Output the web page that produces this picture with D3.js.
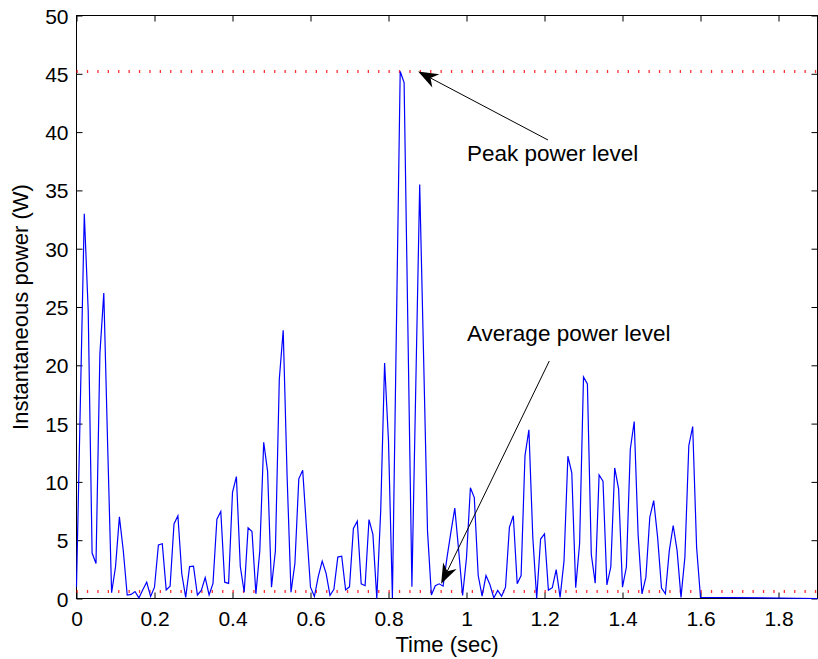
<!DOCTYPE html>
<html>
<head>
<meta charset="utf-8">
<script src="https://cdn.jsdelivr.net/npm/d3@7"></script>
<style>
  html, body { margin: 0; padding: 0; background: #fff; }
  svg { display: block; }
  text { font-family: "Liberation Sans", Arial, Helvetica, sans-serif; fill: #000; }
</style>
</head>
<body>
<svg id="chart" width="818" height="659"></svg>
<script>

// sample period of the power trace (sec)
const samplePeriod = 0.01;

// instantaneous power (W), one value per sample starting at t = 0
const powerValues = [
  1.0, 17, 33.0, 24.7, 3.9, 3.0, 21.0, 26.2, 13.0, 0.5,
  2.7, 7.0, 4.1, 0.3, 0.35, 0.6, 0.05, 0.75, 1.4, 0.17,
  0.97, 4.6, 4.7, 0.74, 1.06, 6.4, 7.1, 2.1, 0.1, 2.74,
  2.77, 0.3, 0.69, 1.8, 0.3, 1.3, 6.8, 7.46, 1.4, 1.3,
  9.1, 10.46, 2.74, 0.54, 6.06, 5.75, 0.4, 4.1, 13.4, 10.9,
  0.97, 4.1, 18.8, 23.0, 10.5, 0.54, 3.0, 10.26, 11.0, 5.9,
  0.97, 0.17, 1.9, 3.2, 2.15, 0.26, 0.78, 3.55, 3.63, 0.74,
  1.0, 6.0, 6.63, 1.26, 1.1, 6.77, 5.5, 0, 7.5, 20.2,
  13.5, 0.05, 22.6, 45.2, 44.25, 22.6, 1.0, 18.3, 35.5, 20.7,
  5.8, 0.3, 1.1, 1.26, 1.06, 3.5, 5.7, 7.75, 4.1, 0.26,
  3.5, 9.5, 8.65, 1.97, 0.2, 1.97, 1.2, 0.05, 0.69, 0.2,
  0.97, 6.1, 7.1, 1.26, 1.97, 12.26, 14.47, 5.26, 0, 5.1,
  5.55, 0.72, 0.93, 2.48, 0.1, 3.2, 12.2, 10.78, 0.93, 4.7,
  19.0, 18.4, 3.77, 1.32, 10.6, 10.06, 1.17, 2.7, 11.2, 9.4,
  0.97, 2.7, 12.8, 15.18, 5.5, 0.4, 1.83, 6.97, 8.4, 5.26,
  0.9, 0.4, 4.1, 6.26, 4.1, 0.1, 3.55, 13.1, 14.75, 4.4,
  0.1
];

// trace stays at zero after the last sample up to the end of the axis
const tailPoint = [1.9, 0];

// reference levels (W)
const peakLevel = 45.2;
const averageLevel = 0.6;

// axis ticks
const xTicks = [0, 0.2, 0.4, 0.6, 0.8, 1, 1.2, 1.4, 1.6, 1.8];
const yTicks = [0, 5, 10, 15, 20, 25, 30, 35, 40, 45, 50];

// annotations: text anchor and arrow tail in px, arrow tip in data units
const annotations = [
  { label: 'Peak power level', tx: 467, ty: 161, tail: [548, 140], tip: [0.876, 45.2] },
  { label: 'Average power level', tx: 467, ty: 341, tail: [549.3, 361], tip: [0.935, 1.26] }
];


/**
 * @class
 */
class PowerChart {


  /**
   * @constructor
   * @param {SVGElement} svg
   */
  constructor(svg) {

    this._svg = d3.select(svg);

    this._left = 76.5;
    this._right = 817.5;
    this._top = 15.5;
    this._bottom = 598.5;
    this._tickLen = 6;

    this._xScale = d3.scaleLinear().domain([0, 1.9]).range([this._left, this._right]);
    this._yScale = d3.scaleLinear().domain([0, 50]).range([this._bottom, this._top]);
  }


  /**
   * Render everything.
   * @returns {PowerChart}
   */
  render() {

    this._renderAxes();
    this._renderLevels();
    this._renderTrace();
    this._renderAnnotations();

    return this;
  }


  _renderLevels() {

    const x = this._xScale;
    const y = this._yScale;

    [peakLevel, averageLevel].forEach((level) => {

      this._svg.append('line')
        .attr('x1', x(0))
        .attr('x2', x(1.9))
        .attr('y1', y(level))
        .attr('y2', y(level))
        .style('stroke', '#ff0000')
        .style('stroke-width', 3)
        .style('stroke-dasharray', '1.3,9.1')
        .style('opacity', 0.8);
    });
  }


  _renderTrace() {

    const x = this._xScale;
    const y = this._yScale;

    const points = powerValues.map((v, i) => [i * samplePeriod, v]);
    points.push(tailPoint);

    const line = d3.line()
      .x((d) => x(d[0]))
      .y((d) => y(d[1]));

    this._svg.append('path')
      .datum(points)
      .attr('d', line)
      .style('fill', 'none')
      .style('stroke', '#0000ff')
      .style('stroke-width', 1.2)
      .style('stroke-linejoin', 'miter');
  }


  _renderAxes() {

    const fmt = (d) => d3.format('')(d);

    const bottom = this._svg.append('g')
      .attr('transform', `translate(0,${this._bottom})`)
      .call(d3.axisBottom(this._xScale).tickValues(xTicks).tickFormat(fmt)
        .tickSizeInner(-this._tickLen).tickSizeOuter(0));

    const top = this._svg.append('g')
      .attr('transform', `translate(0,${this._top})`)
      .call(d3.axisTop(this._xScale).tickValues(xTicks).tickFormat('')
        .tickSizeInner(-this._tickLen).tickSizeOuter(0));

    const left = this._svg.append('g')
      .attr('transform', `translate(${this._left},0)`)
      .call(d3.axisLeft(this._yScale).tickValues(yTicks).tickFormat(fmt)
        .tickSizeInner(-this._tickLen).tickSizeOuter(0));

    const right = this._svg.append('g')
      .attr('transform', `translate(${this._right},0)`)
      .call(d3.axisRight(this._yScale).tickValues(yTicks).tickFormat('')
        .tickSizeInner(-this._tickLen).tickSizeOuter(0));

    [bottom, top, left, right].forEach((g) => {

      g.selectAll('.domain').remove();
      g.selectAll('line').style('stroke', '#000').style('stroke-width', 1);
      g.selectAll('text')
        .style('font-size', '21px')
        .style('font-family', '"Liberation Sans", Arial, sans-serif')
        .style('fill', '#000');
    });

    bottom.selectAll('text').attr('dy', null).attr('y', 27.5);
    left.selectAll('text').attr('dy', '0.36em').attr('x', -8);

    // box
    this._svg.append('rect')
      .attr('x', this._left)
      .attr('y', this._top)
      .attr('width', this._right - this._left)
      .attr('height', this._bottom - this._top)
      .style('fill', 'none')
      .style('stroke', '#000')
      .style('stroke-width', 1);

    this._svg.append('text')
      .attr('x', (this._left + this._right) / 2)
      .attr('y', 652)
      .attr('text-anchor', 'middle')
      .style('font-size', '22px')
      .text('Time (sec)');

    this._svg.append('text')
      .attr('transform', `translate(28,${(this._top + this._bottom) / 2}) rotate(-90)`)
      .attr('text-anchor', 'middle')
      .style('font-size', '22px')
      .text('Instantaneous power (W)');
  }


  _renderAnnotations() {

    annotations.forEach((a) => {

      const tip = [this._xScale(a.tip[0]), this._yScale(a.tip[1])];

      this._svg.append('text')
        .attr('x', a.tx)
        .attr('y', a.ty)
        .style('font-size', '22.5px')
        .text(a.label);

      this._drawArrow(a.tail, tip);
    });
  }


  /**
   * Line with a notched, filled head at the tip.
   * @private
   */
  _drawArrow(tail, tip) {

    const dx = tail[0] - tip[0];
    const dy = tail[1] - tip[1];
    const len = Math.sqrt(dx * dx + dy * dy);
    const ux = dx / len;
    const uy = dy / len;
    const px = -uy;
    const py = ux;

    const headLen = 20;
    const halfW = 7.5;
    const notch = 14;

    this._svg.append('line')
      .attr('x1', tail[0])
      .attr('y1', tail[1])
      .attr('x2', tip[0] + ux * notch)
      .attr('y2', tip[1] + uy * notch)
      .style('stroke', '#000')
      .style('stroke-width', 1);

    const head = [
      [tip[0], tip[1]],
      [tip[0] + ux * headLen + px * halfW, tip[1] + uy * headLen + py * halfW],
      [tip[0] + ux * notch, tip[1] + uy * notch],
      [tip[0] + ux * headLen - px * halfW, tip[1] + uy * headLen - py * halfW]
    ];

    this._svg.append('path')
      .attr('d', 'M' + head.map((p) => p.join(',')).join('L') + 'Z')
      .style('fill', '#000');
  }
}


PowerChart.getInstance = (svg) => new PowerChart(svg);

PowerChart.getInstance(document.getElementById('chart')).render();

</script>
</body>
</html>
